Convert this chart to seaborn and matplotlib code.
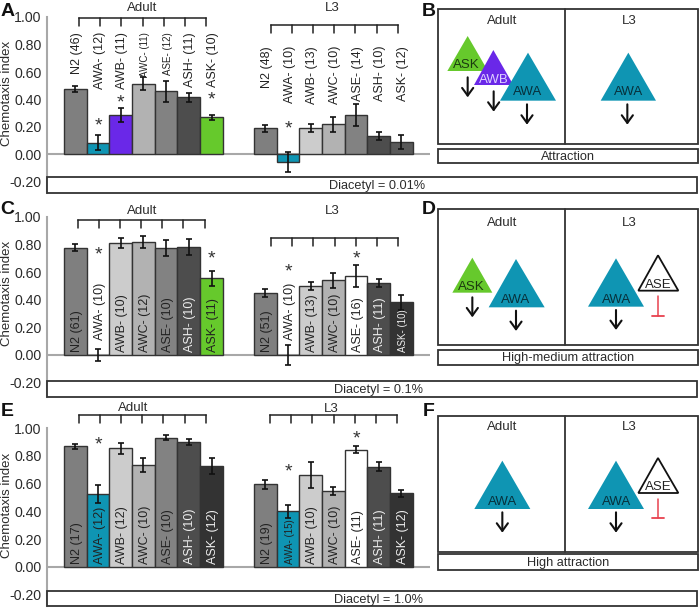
import numpy as np
import pandas as pd
import seaborn as sns
import matplotlib.pyplot as plt
from matplotlib.patches import Polygon, Rectangle

nan = float('nan')

# Neuron labels with worm counts
a_labels = ['N2 (46)', 'AWA- (12)', 'AWB- (11)', 'AWC- (11)', 'ASE- (12)', 'ASH- (11)', 'ASK- (10)',
            'N2 (48)', 'AWA- (10)', 'AWB- (13)', 'AWC- (10)', 'ASE- (14)', 'ASH- (10)', 'ASK- (12)']
c_labels = ['N2 (61)', 'AWA- (10)', 'AWB- (10)', 'AWC- (12)', 'ASE- (10)', 'ASH- (10)', 'ASK- (11)',
            'N2 (51)', 'AWA- (10)', 'AWB- (13)', 'AWC- (10)', 'ASE- (16)', 'ASH- (11)', 'ASK- (10)']
e_labels = ['N2 (17)', 'AWA- (12)', 'AWB- (12)', 'AWC- (10)', 'ASE- (10)', 'ASH- (10)', 'ASK- (12)',
            'N2 (19)', 'AWA- (15)', 'AWB- (10)', 'AWC- (10)', 'ASE- (11)', 'ASH- (11)', 'ASK- (12)']

# Chemotaxis index means, sem and asterisk heights
a_values = [0.475, 0.085, 0.285, 0.515, 0.46, 0.415, 0.27,
            0.19, -0.055, 0.195, 0.22, 0.29, 0.135, 0.09]
a_errors = [0.022, 0.055, 0.05, 0.046, 0.076, 0.034, 0.02,
            0.024, 0.073, 0.03, 0.054, 0.08, 0.028, 0.052]
a_stars = [nan, 0.225, 0.395, nan, nan, nan, 0.415,
           nan, 0.205, nan, nan, nan, nan, nan]

c_values = [0.775, 0.0, 0.81, 0.815, 0.775, 0.78, 0.555,
            0.448, 0.0, 0.50, 0.54, 0.57, 0.518, 0.38]
c_errors = [0.024, 0.045, 0.037, 0.043, 0.059, 0.057, 0.053,
            0.028, 0.071, 0.029, 0.054, 0.08, 0.029, 0.052]
c_stars = [nan, 0.74, nan, nan, nan, nan, 0.71,
           nan, 0.62, nan, nan, 0.715, nan, nan]

e_values = [0.87, 0.525, 0.853, 0.735, 0.93, 0.897, 0.725,
            0.594, 0.40, 0.663, 0.55, 0.844, 0.72, 0.529]
e_errors = [0.018, 0.068, 0.04, 0.052, 0.019, 0.022, 0.058,
            0.031, 0.047, 0.092, 0.029, 0.026, 0.032, 0.026]
e_stars = [nan, 0.895, nan, nan, nan, nan, nan,
           nan, 0.70, nan, nan, 0.94, nan, nan]

GREY1, GREY2, GREY3, GREY4, GREY5, GREY6 = '#7f7f7f', '#cccccc', '#b2b2b2', '#828282', '#4d4d4d', '#333333'
TEAL, PURPLE, GREEN, WHITE = '#0f95b3', '#6a28e8', '#66c92c', '#ffffff'

a_colors = [GREY1, TEAL, PURPLE, GREY3, GREY4, GREY5, GREEN,
            GREY1, TEAL, GREY2, GREY3, GREY4, GREY5, '#595959']
c_colors = [GREY1, WHITE, GREY2, GREY3, GREY4, GREY5, GREEN,
            GREY1, WHITE, GREY2, GREY3, WHITE, GREY5, GREY6]
e_colors = [GREY1, TEAL, GREY2, GREY3, GREY4, GREY5, GREY6,
            GREY1, TEAL, GREY2, GREY3, WHITE, GREY5, GREY6]

sns.set_theme(style='white')
plt.rcParams['font.family'] = ['Liberation Sans', 'DejaVu Sans']

W, H = 700, 608
fig = plt.figure(figsize=(W / 100, H / 100), dpi=100)

# Pixel overlay for boxes, brackets and the circuit diagrams
over = fig.add_axes([0, 0, 1, 1], zorder=5)
over.set_xlim(0, W)
over.set_ylim(H, 0)
over.axis('off')
over.patch.set_alpha(0)

TEXT = '#2b2b2b'
EDGE = '#333333'
AX_L, AX_R = 47, 430
BAR_W = 22.7
BAR_0 = 75.3
TEXT_DY = 1.3
positions = np.r_[np.arange(7), np.arange(7) + 8.37]


def is_dark(color):
    r, g, b = plt.matplotlib.colors.to_rgb(color)
    return 0.3 * r + 0.59 * g + 0.11 * b < 0.4


# Draw one chemotaxis bar panel
def plot_bars(values, errors, stars, colors, labels, top, zero, bottom, inside, small, label_y=None, raised=()):
    ax = fig.add_axes([AX_L / W, 1 - bottom / H, (AX_R - AX_L) / W, (bottom - top) / H])
    df = pd.DataFrame({'pos': positions, 'value': values})
    sns.barplot(data=df, x='pos', y='value', hue='pos', palette=dict(zip(positions, colors)),
                native_scale=True, dodge=False, width=1, saturation=1, legend=False,
                errorbar=None, edgecolor=EDGE, linewidth=1, ax=ax, zorder=2)
    ax.errorbar(positions, values, yerr=errors, fmt='none', ecolor='#111111',
                elinewidth=1.2, capsize=2.5, capthick=1.2, zorder=3)
    ax.axhline(0, color='#a8a8a8', lw=1.5, zorder=1)

    ax.set_xlim((AX_L - BAR_0) / BAR_W, (AX_R - BAR_0) / BAR_W)
    ax.set_ylim(-(bottom - zero) / (zero - top), 1)
    ax.set_yticks([-0.2, 0, 0.2, 0.4, 0.6, 0.8, 1.0])
    ax.set_yticklabels(['%.2f' % t for t in [-0.2, 0, 0.2, 0.4, 0.6, 0.8, 1.0]], fontsize=10.2, color=TEXT)
    ax.tick_params(axis='y', length=0, pad=4)
    ax.set_xticks([])
    ax.set_xlabel('')
    ax.set_ylabel('')
    for side in ['top', 'right', 'bottom']:
        ax.spines[side].set_visible(False)
    ax.spines['left'].set_color('#a8a8a8')
    ax.spines['left'].set_linewidth(1.5)
    ax.patch.set_alpha(0)

    for i, name in enumerate(labels):
        size = 7 if i in small else 9
        color = '#eeeeee' if (inside and is_dark(colors[i])) else '#222222'
        x = positions[i] + 0.07
        if inside:
            base = 0.105 if i in raised else 0.02
            ax.text(x, base, name, rotation=90, ha='center', va='bottom',
                    fontsize=size, color=color, zorder=4)
        else:
            ax.text(x, label_y[0] if i < 7 else label_y[1], name, rotation=90,
                    ha='center', va='top', fontsize=size, color=color, zorder=4)
        if not np.isnan(stars[i]):
            # the glyph sits high in its box
            ax.text(positions[i], stars[i] - 0.018, '*', ha='center', va='center', fontsize=14,
                    color='#333333', zorder=4)
    over.text(7, (top + zero) / 2 + 8, 'Chemotaxis index', rotation=90, ha='center', va='center',
              fontsize=9.5, color=TEXT)


def bracket(x0, x1, y, drop):
    xs = np.linspace(x0, x1, 7)
    over.plot([x0, x1], [y, y], color='#222222', lw=1.1, solid_capstyle='projecting')
    for x in xs:
        over.plot([x, x], [y, y + drop], color='#222222', lw=1.1)


def label_box(x0, x1, y0, y1, text, tx=None):
    over.add_patch(Rectangle((x0, y0), x1 - x0, y1 - y0, fc='white', ec=EDGE, lw=1.3))
    over.text((x0 + x1) / 2 if tx is None else tx, (y0 + y1) / 2 + TEXT_DY, text, ha='center', va='center',
              fontsize=9.2, color=TEXT)


def tri(y0, apex, base, fc, ec, name, tx, ty, tc):
    ax_, ay = apex
    bl, br, by = base
    pts = [(420 + ax_ / 3, y0 + ay / 3), (420 + bl / 3, y0 + by / 3), (420 + br / 3, y0 + by / 3)]
    over.add_patch(Polygon(pts, closed=True, fc=fc, ec=ec, lw=1.3 if ec != 'none' else 0))
    over.text(420 + tx / 3, y0 + ty / 3 + TEXT_DY, name, ha='center', va='center', fontsize=9.5, color=tc)


def arrow(y0, x, y1, y2):
    over.annotate('', xy=(420 + x / 3, y0 + y2 / 3), xytext=(420 + x / 3, y0 + y1 / 3),
                  arrowprops=dict(arrowstyle='->,head_width=0.4,head_length=0.55', color='#111111',
                                  lw=1.5, shrinkA=0, shrinkB=0, mutation_scale=10))


def inhibit(y0, x, y1, y2):
    over.plot([420 + x / 3] * 2, [y0 + y1 / 3, y0 + y2 / 3], color='#e8414e', lw=1.1)
    over.plot([420 + (x - 18) / 3, 420 + (x + 18) / 3], [y0 + y2 / 3] * 2, color='#e8414e', lw=1.3)


def diagram(y0, y1, y2, y3, title_y, text):
    over.add_patch(Rectangle((438, y0), 260, y1 - y0, fc='white', ec=EDGE, lw=1.3))
    over.plot([565, 565], [y0, y1], color=EDGE, lw=1.3)
    over.text(501.7, title_y + TEXT_DY, 'Adult', ha='center', va='center', fontsize=9.5, color=TEXT)
    over.text(629, title_y + TEXT_DY, 'L3', ha='center', va='center', fontsize=9.5, color=TEXT)
    label_box(438, 698, y2, y3, text)


plot_bars(a_values, a_errors, a_stars, a_colors, a_labels, 17, 154.5, 193, False, {3, 4}, (0.89, 0.79))
plot_bars(c_values, c_errors, c_stars, c_colors, c_labels, 216.7, 355, 396.7, True, {13}, raised={1, 8})
plot_bars(e_values, e_errors, e_stars, e_colors, e_labels, 428, 567, 606, True, {8})

label_box(47, 697, 177, 193, 'Diacetyl = 0.01%', tx=377)
label_box(47, 697, 381, 396.7, 'Diacetyl = 0.1%', tx=378)
label_box(47, 697, 590.7, 606, 'Diacetyl = 1.0%', tx=378)

for name, tx, ty, x, y in [('Adult', 142, 6.7, 79, 17.5), ('L3', 332, 7, 270.7, 24.5),
                           ('Adult', 142, 210, 77.5, 220), ('L3', 332, 210, 271, 238),
                           ('Adult', 133, 407, 78.7, 415), ('L3', 331, 408, 270, 415)]:
    over.text(tx, ty + TEXT_DY, name, ha='center', va='center', fontsize=9.5, color=TEXT)
    bracket(x, x + 127, y, 8)

for letter, x, y in [('A', 7.5, 11), ('B', 429, 11), ('C', 7.5, 209), ('D', 429, 210), ('E', 7.5, 412), ('F', 429, 412)]:
    over.text(x, y, letter, ha='center', va='center', fontsize=14, fontweight='bold', color='#111111')

# Panel B
diagram(9, 144, 148.5, 163, 20, 'Attraction')
tri(0, (143, 108), (82, 204, 213), GREEN, 'none', 'ASK', 140, 192, '#1c3a10')
tri(0, (220, 150), (162, 280, 255), PURPLE, 'none', 'AWB', 222, 235, '#ddd0ff')
tri(0, (324, 158), (240, 408, 302), TEAL, 'none', 'AWA', 322, 273, '#07313c')
tri(0, (625, 158), (542, 708, 302), TEAL, 'none', 'AWA', 625, 273, '#07313c')
arrow(0, 143, 232, 292)
arrow(0, 221, 274, 335)
arrow(0, 321, 313, 374)
arrow(0, 622, 313, 374)

# Panel D
diagram(209.3, 345, 349.6, 364.5, 222, 'High-medium attraction')
tri(200, (157, 173), (97, 217, 278), GREEN, 'none', 'ASK', 153, 257, '#1c3a10')
tri(200, (288, 177), (206, 374, 322), TEAL, 'none', 'AWA', 288, 297, '#07313c')
tri(200, (588, 175), (504, 672, 320), TEAL, 'none', 'AWA', 590, 295, '#07313c')
tri(200, (714, 166), (655, 775, 272), 'white', '#111111', 'ASE', 714, 250, '#222222')
arrow(200, 157, 292, 352)
arrow(200, 288, 332, 393)
arrow(200, 588, 330, 390)
inhibit(200, 714, 288, 348)

# Panel F
diagram(415.7, 551.7, 554, 569.7, 426, 'High attraction')
tri(400, (247, 182), (163, 331, 327), TEAL, 'none', 'AWA', 247, 302, '#07313c')
tri(400, (588, 182), (504, 672, 327), TEAL, 'none', 'AWA', 590, 302, '#07313c')
tri(400, (714, 174), (655, 775, 279), 'white', '#111111', 'ASE', 714, 257, '#222222')
arrow(400, 247, 337, 398)
arrow(400, 588, 337, 398)
inhibit(400, 714, 296, 355)

fig.savefig('out.png', dpi=100)
